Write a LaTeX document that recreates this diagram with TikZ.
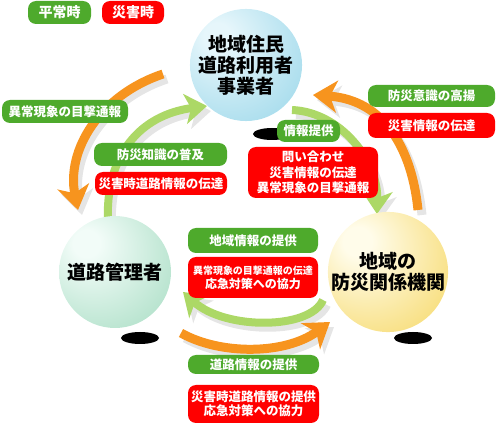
\documentclass[tikz,border=0pt]{standalone}
\usepackage{fontspec}
\setmainfont{Noto Sans CJK JP}
\usetikzlibrary{arrows.meta}

\definecolor{calmgreen}{RGB}{78,170,44}
\definecolor{alarmred}{RGB}{255,0,0}
\definecolor{warnorange}{RGB}{247,148,30}
\definecolor{leafgreen}{RGB}{172,216,102}
\definecolor{blueedge}{RGB}{105,195,222}
\definecolor{bluecore}{RGB}{230,246,251}
\definecolor{mintedge}{RGB}{118,200,160}
\definecolor{mintcore}{RGB}{242,252,248}
\definecolor{goldedge}{RGB}{240,192,15}
\definecolor{goldcore}{RGB}{255,252,234}

\pgfdeclareradialshading{blueball}{\pgfpoint{-14bp}{14bp}}{color(0bp)=(bluecore); color(6bp)=(bluecore); color(68bp)=(blueedge)}
\pgfdeclareradialshading{mintball}{\pgfpoint{-14bp}{14bp}}{color(0bp)=(mintcore); color(6bp)=(mintcore); color(68bp)=(mintedge)}
\pgfdeclareradialshading{goldball}{\pgfpoint{-14bp}{14bp}}{color(0bp)=(goldcore); color(6bp)=(goldcore); color(68bp)=(goldedge)}
\pgfdeclareradialshading{dropblur}{\pgfpoint{0bp}{0bp}}{color(0bp)=(black); color(28bp)=(black); color(50bp)=(white)}

\begin{document}
\begin{tikzpicture}[x=1pt, y=-1pt,
    sphere/.style={circle, shade, inner sep=0pt, minimum size=108pt, align=center,
        font=\bfseries\fontsize{19}{21}\selectfont},
    calm/.style={fill=calmgreen, rounded corners=8pt, text=white, inner sep=0pt, align=center,
        font=\bfseries\fontsize{12.5}{15}\selectfont},
    alarm/.style={calm, fill=alarmred},
    warnarc/.style={draw=warnorange, line width=9pt, -{Stealth[length=24pt, width=32pt, inset=7pt]}},
    infoarc/.style={draw=leafgreen, line width=8pt, -{Stealth[length=22pt, width=30pt, inset=6pt]}},
    dropcopy/.style={draw=gray!20, transform canvas={shift={(4pt,-5pt)}}}]

    \useasboundingbox (0,0) rectangle (499,425);

    % ends of the arcs
    \coordinate (warnTopS) at (163,74);
    \coordinate (warnLeftE) at (78,210);
    \coordinate (warnBotS) at (181,333);
    \coordinate (warnBotE) at (330,322);
    \coordinate (warnRightS) at (418,210);
    \coordinate (warnRightE) at (313,95);
    \coordinate (infoLeftS) at (108,222);
    \coordinate (infoLeftE) at (207,106);
    \coordinate (infoTopS) at (292,110);
    \coordinate (infoTopE) at (377,214);
    \coordinate (infoBotS) at (323,300);
    \coordinate (infoBotE) at (183,292);

    % shadows of the arcs
    \draw[warnarc, dropcopy] (warnTopS) .. controls (100,95) and (66,150) .. (warnLeftE);
    \draw[warnarc, dropcopy] (warnBotS) .. controls (220,355) and (285,355) .. (warnBotE);
    \draw[warnarc, dropcopy] (warnRightS) .. controls (412,150) and (385,100) .. (warnRightE);
    \draw[infoarc, dropcopy] (infoLeftS) .. controls (105,155) and (140,115) .. (infoLeftE);
    \draw[infoarc, dropcopy] (infoTopS) .. controls (340,112) and (378,160) .. (infoTopE);
    \draw[infoarc, dropcopy] (infoBotS) .. controls (310,330) and (225,330) .. (infoBotE);

    % arcs
    \draw[warnarc] (warnTopS) .. controls (100,95) and (66,150) .. (warnLeftE);
    \draw[warnarc] (warnBotS) .. controls (220,355) and (285,355) .. (warnBotE);
    \draw[warnarc] (warnRightS) .. controls (412,150) and (385,100) .. (warnRightE);
    \draw[infoarc] (infoLeftS) .. controls (105,155) and (140,115) .. (infoLeftE);
    \draw[infoarc] (infoTopS) .. controls (340,112) and (378,160) .. (infoTopE);
    \draw[infoarc] (infoBotS) .. controls (310,330) and (225,330) .. (infoBotE);

    % spheres and their shadows
    \shade[shading=dropblur] (272,134) ellipse (19 and 6);
    \shade[shading=dropblur] (140,338) ellipse (19 and 6);
    \shade[shading=dropblur] (413,338) ellipse (19 and 6);
    \node[sphere, shading=blueball, minimum size=106pt] (users) at (246,65) {地域住民\\道路利用者\\事業者};
    \node[sphere, shading=mintball, minimum size=112pt] (roads) at (115,272) {道路管理者};
    \node[sphere, shading=goldball, minimum size=110pt] (agency) at (388,272) {地域の\\防災関係機関};

    % legend
    \node[calm, minimum width=63pt, minimum height=23pt, font=\bfseries\fontsize{14}{16}\selectfont] (keyCalm) at (59.5,12.5) {平常時};
    \node[alarm, minimum width=62pt, minimum height=23pt, font=\bfseries\fontsize{14}{16}\selectfont] (keyAlarm) at (133,12.5) {災害時};

    % labels
    \node[calm, minimum width=126pt, minimum height=23pt] (lblSight) at (65,111.5) {異常現象の目撃通報};
    \node[calm, minimum width=133pt, minimum height=23pt] (lblKnow) at (160.5,154.5) {防災知識の普及};
    \node[alarm, minimum width=132pt, minimum height=23pt] (lblRoadNews) at (161,183.5) {災害時道路情報の伝達};
    \node[calm, minimum width=63pt, minimum height=22pt] (lblInfo) at (308.5,131) {情報提供};
    \node[alarm, minimum width=130pt, minimum height=51pt, font=\bfseries\fontsize{12.5}{15.5}\selectfont] (lblAsk) at (313,172.5) {問い合わせ\\災害情報の伝達\\異常現象の目撃通報};
    \node[calm, minimum width=127pt, minimum height=22pt] (lblAware) at (431.5,96) {防災意識の高揚};
    \node[alarm, minimum width=127pt, minimum height=25pt] (lblNews) at (431.5,125.5) {災害情報の伝達};
    \node[calm, minimum width=130pt, minimum height=25pt] (lblArea) at (253,240.5) {地域情報の提供};
    \node[alarm, minimum width=130pt, minimum height=41pt, font=\bfseries\fontsize{12}{14}\selectfont] (lblRelay) at (253,277.5) {{\fontsize{10}{12}\selectfont 異常現象の目撃通報の伝達}\\応急対策への協力};
    \node[calm, minimum width=131pt, minimum height=19pt] (lblRoadInfo) at (253.5,364.5) {道路情報の提供};
    \node[alarm, minimum width=131pt, minimum height=38pt, font=\bfseries\fontsize{12.5}{14.5}\selectfont] (lblHelp) at (253.5,404) {災害時道路情報の提供\\応急対策への協力};
\end{tikzpicture}
\end{document}
